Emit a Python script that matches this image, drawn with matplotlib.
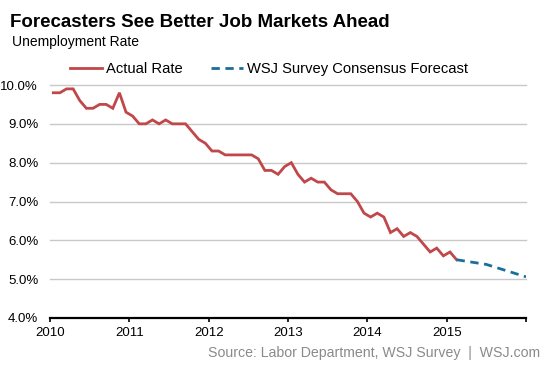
import matplotlib
matplotlib.use("Agg")
import matplotlib.pyplot as plt
import numpy as np

plt.rcParams['font.family'] = ['Liberation Sans', 'DejaVu Sans']

years = [2010, 2011, 2012, 2013, 2014, 2015]
actual_by_year = {
    2010: [9.8, 9.8, 9.9, 9.9, 9.6, 9.4, 9.4, 9.5, 9.5, 9.4, 9.8, 9.3],
    2011: [9.2, 9.0, 9.0, 9.1, 9.0, 9.1, 9.0, 9.0, 9.0, 8.8, 8.6, 8.5],
    2012: [8.3, 8.3, 8.2, 8.2, 8.2, 8.2, 8.2, 8.1, 7.8, 7.8, 7.7, 7.9],
    2013: [8.0, 7.7, 7.5, 7.6, 7.5, 7.5, 7.3, 7.2, 7.2, 7.2, 7.0, 6.7],
    2014: [6.6, 6.7, 6.6, 6.2, 6.3, 6.1, 6.2, 6.1, 5.9, 5.7, 5.8, 5.6],
    2015: [5.7, 5.5],
}
forecast_t = [2015.125, 2015.5, 2016.0]
forecast_v = [5.5, 5.38, 5.06]

y_ticks = [4, 5, 6, 7, 8, 9, 10]
x_ticks = [2010, 2011, 2012, 2013, 2014, 2015, 2016]
x_labels = ['2010', '2011', '2012', '2013', '2014', '2015', '']

actual_t = []
actual_v = []
for yr in years:
    for i, v in enumerate(actual_by_year[yr]):
        actual_t.append(yr + (i + 0.5) / 12)
        actual_v.append(v)

W, H = 553, 369
fig = plt.figure(figsize=(W / 100, H / 100), dpi=100)
ax = fig.add_axes([50 / W, 1 - 318 / H, 476 / W, 233 / H])

red = '#c0474a'
blue = '#1b6e9b'

for y in y_ticks[1:]:
    ax.axhline(y, color='#c8c8c8', lw=1.0, zorder=1, clip_on=False)

ax.plot(actual_t, actual_v, color=red, lw=2.0, zorder=3, solid_joinstyle='miter',
        label='Actual Rate')
ax.plot(forecast_t, forecast_v, color=blue, lw=2.0, ls=(0, (3, 2)), zorder=3,
        label='WSJ Survey Consensus Forecast')

ax.set_xlim(2010, 2016)
ax.set_ylim(4, 10)
ax.set_yticks(y_ticks)
ax.set_yticklabels([f'{v:.1f}%' for v in y_ticks], fontsize=9.5)
ax.set_xticks(x_ticks)
ax.set_xticklabels(x_labels, fontsize=9.5)
ax.tick_params(axis='y', length=0, pad=8.5)
ax.tick_params(axis='x', length=3, width=1.2, direction='out', pad=3.5)

for s in ['top', 'right', 'left']:
    ax.spines[s].set_visible(False)
ax.spines['bottom'].set_linewidth(1.6)
ax.spines['bottom'].set_color('black')
ax.set_facecolor('none')

leg = ax.legend(loc='lower left', bbox_to_anchor=(70 / W, 1 - 76 / H), bbox_transform=fig.transFigure,
                ncol=2, frameon=False, fontsize=10.6, handlelength=2.2, handletextpad=0.25,
                columnspacing=1.9, borderaxespad=0, borderpad=0)

fig.text(10 / W, 1 - 27 / H, 'Forecasters See Better Job Markets Ahead', fontsize=13.5,
         fontweight='bold', ha='left', va='baseline')
fig.text(12 / W, 1 - 46 / H, 'Unemployment Rate', fontsize=10, ha='left', va='baseline')
fig.text(540 / W, 1 - 357 / H, 'Source: Labor Department, WSJ Survey  |  WSJ.com',
         fontsize=10.2, color='#8a8a8a', ha='right', va='baseline')

fig.savefig('out.png', dpi=100)
